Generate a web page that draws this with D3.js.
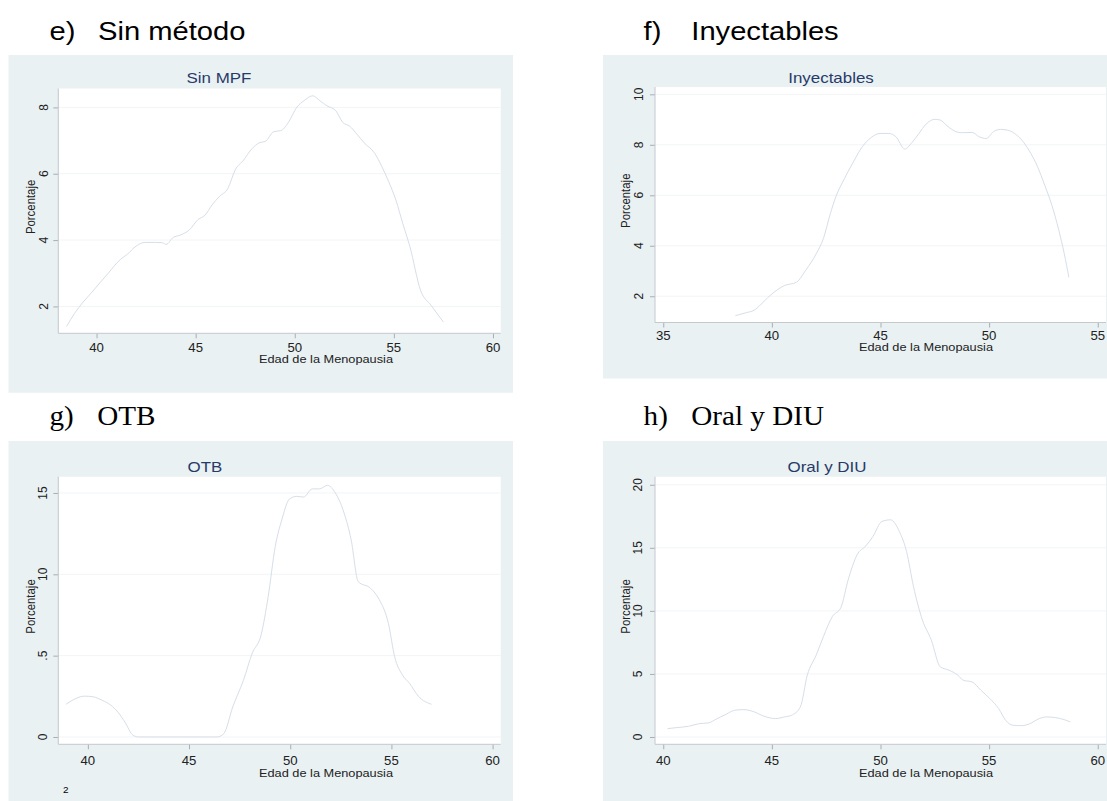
<!DOCTYPE html>
<html><head><meta charset="utf-8">
<script src="https://cdn.jsdelivr.net/npm/d3@7"></script>
<style>body{margin:0;background:#fff}svg{display:block}</style>
</head><body>
<svg id="c" width="1107" height="801"></svg>
<script>
// ---------- DATA ----------
const panelLetters = ["e)", "f)", "g)", "h)"];
const panelHeadings = ["Sin método", "Inyectables", "OTB", "Oral y DIU"];
const chartTitles = ["Sin MPF", "Inyectables", "OTB", "Oral y DIU"];
const xAxisTitle = "Edad de la Menopausia";
const yAxisTitle = "Porcentaje";
const pageNumber = "2";

const sinX = [38.49,38.88,39.32,39.77,40.21,40.57,41.19,41.55,42.0,42.44,42.98,43.33,43.51,43.87,44.22,44.67,45.12,45.47,45.83,46.19,46.63,46.99,47.43,47.79,48.24,48.50,48.95,49.30,49.66,50.11,50.46,50.91,51.27,51.62,52.07,52.42,52.78,53.14,53.49,54.03,54.39,54.74,55.10,55.45,55.81,56.35,56.88,57.50];
const sinY = [1.40,1.78,2.13,2.43,2.74,2.99,3.41,3.57,3.82,3.93,3.93,3.92,3.87,4.08,4.15,4.30,4.62,4.75,5.06,5.31,5.56,6.11,6.42,6.72,6.94,6.97,7.27,7.30,7.53,8.01,8.20,8.35,8.20,8.05,7.90,7.55,7.43,7.19,6.94,6.62,6.22,5.76,5.21,4.50,3.80,2.48,2.03,1.53];

const inyX = [38.32,38.78,39.23,39.59,40.0,40.57,41.14,41.55,42.04,42.37,42.69,42.94,43.34,43.75,44.16,44.57,44.98,45.38,45.71,46.12,46.44,46.77,47.10,47.50,47.75,48.08,48.48,48.73,49.22,49.54,49.87,50.20,50.52,50.85,51.17,51.50,51.83,52.23,52.56,52.89,53.21,53.46,53.67];
const inyY = [1.23,1.34,1.47,1.76,2.09,2.42,2.56,3.02,3.68,4.28,5.27,5.93,6.66,7.32,7.92,8.29,8.45,8.45,8.32,7.83,8.08,8.45,8.82,9.01,8.98,8.74,8.52,8.48,8.49,8.32,8.25,8.52,8.61,8.58,8.45,8.19,7.79,7.13,6.40,5.60,4.61,3.68,2.75];

const otbX = [38.92,39.30,39.83,40.26,40.70,41.14,41.48,41.83,42.24,42.53,43.5,44.5,45.5,46.38,46.72,47.16,47.69,48.12,48.56,48.91,49.26,49.61,49.96,50.31,50.66,51.09,51.44,51.84,52.23,52.66,53.01,53.36,53.97,54.41,54.85,55.16,55.55,55.90,56.33,56.98];
const otbY = [2.01,2.30,2.51,2.47,2.26,1.95,1.54,0.92,0.10,0,0,0,0,0,0.21,1.85,3.49,5.14,6.27,8.63,11.71,13.46,14.63,14.79,14.75,15.25,15.25,15.47,15.0,13.77,12.12,9.55,9.14,8.42,6.99,4.93,3.80,3.29,2.51,2.01];

const oralX = [40.20,40.60,41.17,41.66,42.07,42.48,42.89,43.29,43.70,44.19,44.60,45.17,45.58,45.90,46.31,46.63,47.04,47.37,47.78,48.18,48.51,48.92,49.32,49.65,50.06,50.46,50.87,51.20,51.52,51.93,52.34,52.75,53.15,53.56,53.81,54.21,54.62,55.03,55.44,55.76,56.09,56.50,56.82,57.31,57.64,58.04,58.45,58.74];
const oralY = [0.66,0.74,0.85,1.06,1.11,1.46,1.80,2.12,2.17,1.99,1.67,1.46,1.59,1.72,2.38,4.90,6.49,7.95,9.54,10.28,12.45,14.44,15.15,15.89,17.09,17.22,16.29,14.70,11.92,9.27,7.68,5.56,5.30,4.90,4.50,4.37,3.71,3.05,2.25,1.32,0.93,0.90,1.01,1.46,1.59,1.54,1.38,1.19];

const xTicksSin = [40,45,50,55,60];
const yTicksSin = [2,4,6,8];
const xTicksIny = [35,40,45,50,55];
const yTicksIny = [2,4,6,8,10];
const xTicksOtb = [40,45,50,55,60];
const yTicksOtb = [0,5,10,15];
const yTickLabelsOtb = ["0",".5","10","15"];
const xTicksOral = [40,45,50,55,60];
const yTicksOral = [0,5,10,15,20];

// ---------- LAYOUT / STYLE ----------
const SX = 1.1;
const C = {bg:"#e9f1f3", plot:"#ffffff", line:"#d6dfe8", grid:"#f2f4f6", axis:"#c4c9ce", tick:"#a9aeb3", txt:"#222", title:"#283a68"};
const SANS = "'Liberation Sans', Arial, sans-serif";
const SERIF = "'Liberation Serif', 'Times New Roman', serif";

const panels = [
  {xs:sinX, ys:sinY, xt:xTicksSin, yt:yTicksSin, ylab:null, xd:[38.07,60.39], yd:[1.19,8.57],
   grey:[8.5,55,513,392.7], plot:[58.3,88.5,500.7,333.3], headFont:SANS, headBase:40, letterX:49.5, headX:98,
   titleX:219, titleY:83.3, yLabX:47.5, yTitleX:35, xLabY:352, xTitleY:363, xTitleX:326},
  {xs:inyX, ys:inyY, xt:xTicksIny, yt:yTicksIny, ylab:null, xd:[34.62,55.38], yd:[0.96,10.29],
   grey:[603,55,1107,378.5], plot:[655,87,1106,322.5], headFont:SANS, headBase:40, letterX:643.6, headX:691.3,
   titleX:831, titleY:83, yLabX:642.5, yTitleX:630, xLabY:340, xTitleY:350.7, xTitleX:926},
  {xs:otbX, ys:otbY, xt:xTicksOtb, yt:yTicksOtb, ylab:yTickLabelsOtb, xd:[38.54,60.4], yd:[-0.45,16.0],
   grey:[8.5,441,513,801], plot:[58.3,476.7,500.7,744.3], headFont:SERIF, headBase:425, letterX:49.5, headX:97.2,
   titleX:205, titleY:472, yLabX:46.5, yTitleX:35, xLabY:765, xTitleY:776.7, xTitleX:326},
  {xs:oralX, ys:oralY, xt:xTicksOral, yt:yTicksOral, ylab:null, xd:[39.62,60.38], yd:[-0.58,20.64],
   grey:[603,441,1107,801], plot:[655,476.7,1106,744.3], headFont:SERIF, headBase:425, letterX:643.6, headX:691.3,
   titleX:827, titleY:472, yLabX:642.3, yTitleX:630, xLabY:765, xTitleY:776.7, xTitleX:926}
];

const svg = d3.select("#c");

function txt(parent, x, y, s, o) {
  const g = parent.append("g").attr("transform", `translate(${x},${y}) scale(${SX},1)`);
  const t = g.append("text")
    .attr("font-size", o.size).attr("font-family", o.family || SANS)
    .attr("fill", o.fill || C.txt).attr("text-anchor", o.anchor || "start").text(s);
  if (o.rotate) t.attr("transform", `rotate(${o.rotate})`);
  return t;
}

panels.forEach((p, i) => {
  const g = svg.append("g");
  const [gx0, gy0, gx1, gy1] = p.grey;
  const [px0, py0, px1, py1] = p.plot;

  // headings
  txt(g, p.letterX, p.headBase, panelLetters[i], {size: 26.5, family: p.headFont, fill:"#000"});
  txt(g, p.headX, p.headBase, panelHeadings[i], {size: 26.5, family: p.headFont, fill:"#000"});

  // background
  g.append("rect").attr("x", gx0).attr("y", gy0).attr("width", gx1 - gx0).attr("height", gy1 - gy0).attr("fill", C.bg);
  g.append("rect").attr("x", px0).attr("y", py0).attr("width", px1 - px0).attr("height", py1 - py0).attr("fill", C.plot);

  const x = d3.scaleLinear().domain(p.xd).range([px0, px1]);
  const y = d3.scaleLinear().domain(p.yd).range([py1, py0]);

  // grid
  g.selectAll(null).data(p.yt).enter().append("line")
    .attr("x1", px0).attr("x2", px1).attr("y1", d => y(d)).attr("y2", d => y(d))
    .attr("stroke", C.grid).attr("stroke-width", 1);

  // axes
  const xAxis = g.append("g").attr("transform", `translate(0,${py1})`)
    .call(d3.axisBottom(x).tickValues(p.xt).tickSize(5).tickFormat(""));
  const yAxis = g.append("g").attr("transform", `translate(${px0},0)`)
    .call(d3.axisLeft(y).tickValues(p.yt).tickSize(5).tickFormat(""));
  [xAxis, yAxis].forEach(a => {
    a.select(".domain").remove();
    a.selectAll(".tick line").attr("stroke", C.tick);
  });
  g.append("line").attr("x1", px0).attr("x2", px0).attr("y1", py0).attr("y2", py1).attr("stroke", C.axis);
  g.append("line").attr("x1", px0).attr("x2", px1).attr("y1", py1).attr("y2", py1).attr("stroke", C.axis);

  // tick labels
  p.xt.forEach(v => txt(g, x(v), p.xLabY, String(v), {size: 12, anchor: "middle"}));
  p.yt.forEach((v, k) => txt(g, p.yLabX, y(v), p.ylab ? p.ylab[k] : String(v), {size: 12, anchor: "middle", rotate: -90}));

  // axis titles
  txt(g, p.xTitleX, p.xTitleY, xAxisTitle, {size: 11.6, anchor: "middle"});
  txt(g, p.yTitleX, (py0 + py1) / 2 - 4, yAxisTitle, {size: 11.4, anchor: "middle", rotate: -90});

  // chart title
  txt(g, p.titleX, p.titleY, chartTitles[i], {size: 15.4, anchor: "middle", fill: C.title});

  // curve
  const pts = p.xs.map((v, k) => [v, p.ys[k]]);
  g.append("path").datum(pts)
    .attr("d", d3.line().x(d => x(d[0])).y(d => y(d[1])).curve(d3.curveMonotoneX))
    .attr("fill", "none").attr("stroke", C.line).attr("stroke-width", 1);
});

// page number
txt(svg, 63, 792.7, pageNumber, {size: 9, fill: "#000"});
</script>
</body></html>
